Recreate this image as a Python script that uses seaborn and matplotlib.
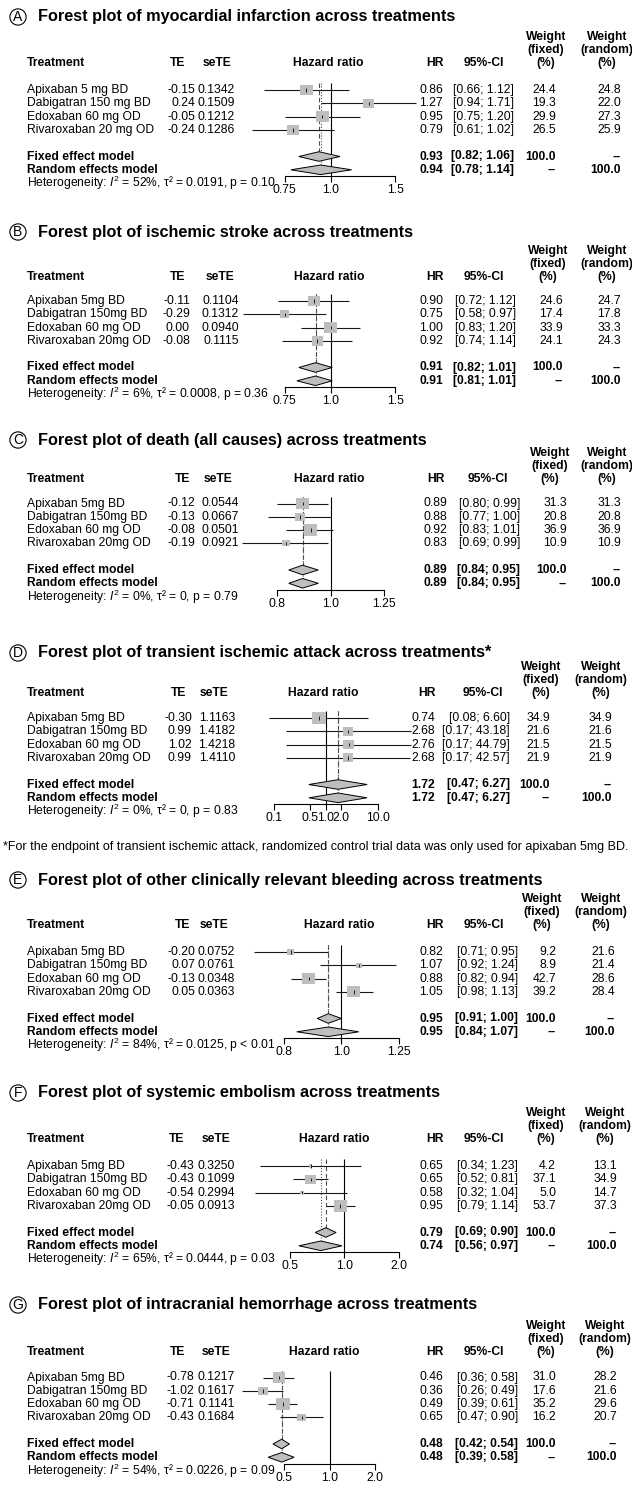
import numpy as np
import pandas as pd
import matplotlib
matplotlib.use("Agg")
import matplotlib.pyplot as plt
from matplotlib.ticker import FixedLocator, FixedFormatter, NullLocator
import seaborn as sns

# ---------------------------------------------------------------- data
drugs_spaced = ["Apixaban 5 mg BD", "Dabigatran 150 mg BD",
                "Edoxaban 60 mg OD", "Rivaroxaban 20 mg OD"]
drugs = ["Apixaban 5mg BD", "Dabigatran 150mg BD",
         "Edoxaban 60 mg OD", "Rivaroxaban 20mg OD"]

# A: myocardial infarction
mi_te = [-0.15, 0.24, -0.05, -0.24]
mi_sete = [0.1342, 0.1509, 0.1212, 0.1286]
mi_hr = [0.86, 1.27, 0.95, 0.79]
mi_lo = [0.66, 0.94, 0.75, 0.61]
mi_hi = [1.12, 1.71, 1.20, 1.02]
mi_wfixed = [24.4, 19.3, 29.9, 26.5]
mi_wrandom = [24.8, 22.0, 27.3, 25.9]
mi_fixed = [0.93, 0.82, 1.06]
mi_random = [0.94, 0.78, 1.14]
mi_het = ["52%", "0.0191", "= 0.10"]
mi_ticks = [0.75, 1.0, 1.5]
mi_ticklabels = ["0.75", "1.0", "1.5"]

# B: ischemic stroke
is_te = [-0.11, -0.29, 0.00, -0.08]
is_sete = [0.1104, 0.1312, 0.0940, 0.1115]
is_hr = [0.90, 0.75, 1.00, 0.92]
is_lo = [0.72, 0.58, 0.83, 0.74]
is_hi = [1.12, 0.97, 1.20, 1.14]
is_wfixed = [24.6, 17.4, 33.9, 24.1]
is_wrandom = [24.7, 17.8, 33.3, 24.3]
is_fixed = [0.91, 0.82, 1.01]
is_random = [0.91, 0.81, 1.01]
is_het = ["6%", "0.0008", "= 0.36"]
is_ticks = [0.75, 1.0, 1.5]
is_ticklabels = ["0.75", "1.0", "1.5"]

# C: death (all causes)
de_te = [-0.12, -0.13, -0.08, -0.19]
de_sete = [0.0544, 0.0667, 0.0501, 0.0921]
de_hr = [0.89, 0.88, 0.92, 0.83]
de_lo = [0.80, 0.77, 0.83, 0.69]
de_hi = [0.99, 1.00, 1.01, 0.99]
de_wfixed = [31.3, 20.8, 36.9, 10.9]
de_wrandom = [31.3, 20.8, 36.9, 10.9]
de_fixed = [0.89, 0.84, 0.95]
de_random = [0.89, 0.84, 0.95]
de_het = ["0%", "0", "= 0.79"]
de_ticks = [0.8, 1.0, 1.25]
de_ticklabels = ["0.8", "1.0", "1.25"]

# D: transient ischemic attack
tia_te = [-0.30, 0.99, 1.02, 0.99]
tia_sete = [1.1163, 1.4182, 1.4218, 1.4110]
tia_hr = [0.74, 2.68, 2.76, 2.68]
tia_lo = [0.08, 0.17, 0.17, 0.17]
tia_hi = [6.60, 43.18, 44.79, 42.57]
tia_wfixed = [34.9, 21.6, 21.5, 21.9]
tia_wrandom = [34.9, 21.6, 21.5, 21.9]
tia_fixed = [1.72, 0.47, 6.27]
tia_random = [1.72, 0.47, 6.27]
tia_het = ["0%", "0", "= 0.83"]
tia_ticks = [0.1, 0.5, 1.0, 2.0, 10.0]
tia_ticklabels = ["0.1", "0.5", "1.0", "2.0", "10.0"]

# E: other clinically relevant bleeding
crb_te = [-0.20, 0.07, -0.13, 0.05]
crb_sete = [0.0752, 0.0761, 0.0348, 0.0363]
crb_hr = [0.82, 1.07, 0.88, 1.05]
crb_lo = [0.71, 0.92, 0.82, 0.98]
crb_hi = [0.95, 1.24, 0.94, 1.13]
crb_wfixed = [9.2, 8.9, 42.7, 39.2]
crb_wrandom = [21.6, 21.4, 28.6, 28.4]
crb_fixed = [0.95, 0.91, 1.00]
crb_random = [0.95, 0.84, 1.07]
crb_het = ["84%", "0.0125", "< 0.01"]
crb_ticks = [0.8, 1.0, 1.25]
crb_ticklabels = ["0.8", "1.0", "1.25"]

# F: systemic embolism
se_te = [-0.43, -0.43, -0.54, -0.05]
se_sete = [0.3250, 0.1099, 0.2994, 0.0913]
se_hr = [0.65, 0.65, 0.58, 0.95]
se_lo = [0.34, 0.52, 0.32, 0.79]
se_hi = [1.23, 0.81, 1.04, 1.14]
se_wfixed = [4.2, 37.1, 5.0, 53.7]
se_wrandom = [13.1, 34.9, 14.7, 37.3]
se_fixed = [0.79, 0.69, 0.90]
se_random = [0.74, 0.56, 0.97]
se_het = ["65%", "0.0444", "= 0.03"]
se_ticks = [0.5, 1.0, 2.0]
se_ticklabels = ["0.5", "1.0", "2.0"]

# G: intracranial hemorrhage
ich_te = [-0.78, -1.02, -0.71, -0.43]
ich_sete = [0.1217, 0.1617, 0.1141, 0.1684]
ich_hr = [0.46, 0.36, 0.49, 0.65]
ich_lo = [0.36, 0.26, 0.39, 0.47]
ich_hi = [0.58, 0.49, 0.61, 0.90]
ich_wfixed = [31.0, 17.6, 35.2, 16.2]
ich_wrandom = [28.2, 21.6, 29.6, 20.7]
ich_fixed = [0.48, 0.42, 0.54]
ich_random = [0.48, 0.39, 0.58]
ich_het = ["54%", "0.0226", "= 0.09"]
ich_ticks = [0.5, 1.0, 2.0]
ich_ticklabels = ["0.5", "1.0", "2.0"]

titles = [
    "Forest plot of myocardial infarction across treatments",
    "Forest plot of ischemic stroke across treatments",
    "Forest plot of death (all causes) across treatments",
    "Forest plot of transient ischemic attack across treatments*",
    "Forest plot of other clinically relevant bleeding across treatments",
    "Forest plot of systemic embolism across treatments",
    "Forest plot of intracranial hemorrhage across treatments",
]
letters = ["A", "B", "C", "D", "E", "F", "G"]
footnote = ("*For the endpoint of transient ischemic attack, randomized control "
            "trial data was only used for apixaban 5mg BD.")

panels = []
for names, te, sete, hr, lo, hi, wf, wr, fx_, rd_, het, tk, tl in [
    (drugs_spaced, mi_te, mi_sete, mi_hr, mi_lo, mi_hi, mi_wfixed, mi_wrandom,
     mi_fixed, mi_random, mi_het, mi_ticks, mi_ticklabels),
    (drugs, is_te, is_sete, is_hr, is_lo, is_hi, is_wfixed, is_wrandom,
     is_fixed, is_random, is_het, is_ticks, is_ticklabels),
    (drugs, de_te, de_sete, de_hr, de_lo, de_hi, de_wfixed, de_wrandom,
     de_fixed, de_random, de_het, de_ticks, de_ticklabels),
    (drugs, tia_te, tia_sete, tia_hr, tia_lo, tia_hi, tia_wfixed, tia_wrandom,
     tia_fixed, tia_random, tia_het, tia_ticks, tia_ticklabels),
    (drugs, crb_te, crb_sete, crb_hr, crb_lo, crb_hi, crb_wfixed, crb_wrandom,
     crb_fixed, crb_random, crb_het, crb_ticks, crb_ticklabels),
    (drugs, se_te, se_sete, se_hr, se_lo, se_hi, se_wfixed, se_wrandom,
     se_fixed, se_random, se_het, se_ticks, se_ticklabels),
    (drugs, ich_te, ich_sete, ich_hr, ich_lo, ich_hi, ich_wfixed, ich_wrandom,
     ich_fixed, ich_random, ich_het, ich_ticks, ich_ticklabels),
]:
    panels.append(dict(names=names, te=te, sete=sete, hr=hr, lo=lo, hi=hi,
                       wf=wf, wr=wr, fixed=fx_, random=rd_, het=het,
                       ticks=tk, ticklabels=tl))

# ---------------------------------------------------------------- layout (pixels)
W, H = 632, 1488
DY = 13.3
BODY = 8.7
TITLE = 11.7
GRAY = "#BEBEBE"

# per panel: title row, header row, first study row, log-axis origin/scale, column anchors
layout = [
    dict(title_y=17, head_y=63, y0=90, x1=330.6, k=160,
         te_h=178, te_r=195, se_h=217, se_r=235, hz_h=328.5, hr_l=419, hr_h=435,
         ci_r=514, ci_h=484, wf_h=546, wf_r=556, wr_h=607, wr_r=621),
    dict(title_y=232, head_y=277, y0=301, x1=330.6, k=160,
         te_h=178, te_r=190, se_h=220, se_r=239, hz_h=329.5, hr_l=419, hr_h=435,
         ci_r=516, ci_h=484, wf_h=548, wf_r=563, wr_h=607, wr_r=621),
    dict(title_y=440, head_y=479, y0=503.5, x1=330.6, k=240,
         te_h=183, te_r=195, se_h=218, se_r=239, hz_h=329.5, hr_l=424, hr_h=436,
         ci_r=520, ci_h=488, wf_h=550, wf_r=567, wr_h=607, wr_r=621),
    dict(title_y=653, head_y=693, y0=718, x1=325.8, k=22.5,
         te_h=179, te_r=192, se_h=214, se_r=235, hz_h=323.5, hr_l=411, hr_h=427,
         ci_r=510, ci_h=483, wf_h=541, wf_r=550, wr_h=601, wr_r=612),
    dict(title_y=880, head_y=925, y0=952, x1=341.4, k=256,
         te_h=183, te_r=195, se_h=214, se_r=235, hz_h=339.5, hr_l=419, hr_h=435,
         ci_r=518, ci_h=484, wf_h=542, wf_r=556, wr_h=601, wr_r=615),
    dict(title_y=1093, head_y=1139, y0=1166, x1=344.3, k=78.3,
         te_h=177, te_r=194, se_h=216.5, se_r=235, hz_h=334.6, hr_l=419, hr_h=435,
         ci_r=518, ci_h=484, wf_h=546, wf_r=556, wr_h=605, wr_r=617),
    dict(title_y=1305, head_y=1352, y0=1377.5, x1=329.8, k=65.5,
         te_h=178, te_r=194, se_h=216.5, se_r=235, hz_h=324.5, hr_l=419, hr_h=435,
         ci_r=518, ci_h=484, wf_h=546, wf_r=556, wr_h=605, wr_r=617),
]
FOOT_Y = 847
LABEL_X = 27
FOREST_L, FOREST_R = 228, 428
ROW_TOP, ROW_BOT = -1.5, 8.5
SQ_MAX = 95  # marker area (pt^2) of the heaviest study in a panel
BOX = [(-0.6, -0.5), (0.6, -0.5), (0.6, 0.5), (-0.6, 0.5)]

# ---------------------------------------------------------------- style
sns.set_theme(style="white")
plt.rcParams["font.family"] = ["Liberation Sans", "DejaVu Sans"]
plt.rcParams["mathtext.fontset"] = "custom"
plt.rcParams["mathtext.rm"] = "Liberation Sans"
plt.rcParams["mathtext.it"] = "Liberation Sans:italic"
plt.rcParams["mathtext.bf"] = "Liberation Sans:bold"

fig = plt.figure(figsize=(W / 100, H / 100), dpi=100)
fig.patch.set_facecolor("white")


def put(x, y, s, ha="left", bold=False, size=BODY, **kw):
    fig.text(x / W, 1 - y / H, s, ha=ha, va="center", fontsize=size,
             fontweight="bold" if bold else "normal", color="black", **kw)


def draw_panel(p, lay, letter, title):
    y0 = lay["y0"]

    def row_y(r):
        return y0 + r * DY

    # title with circled panel letter
    put(18, lay["title_y"], letter, ha="center", size=10,
        bbox=dict(boxstyle="circle,pad=0.08", fc="white", ec="black", lw=0.8))
    put(38, lay["title_y"], title, bold=True, size=TITLE)

    # column headers
    hy = lay["head_y"]
    put(LABEL_X, hy, "Treatment", bold=True)
    put(lay["te_h"], hy, "TE", ha="center", bold=True)
    put(lay["se_h"], hy, "seTE", ha="center", bold=True)
    put(lay["hz_h"], hy, "Hazard ratio", ha="center", bold=True)
    put(lay["hr_h"], hy, "HR", ha="center", bold=True)
    put(lay["ci_h"], hy, "95%-CI", ha="center", bold=True)
    for key, word in (("wf_h", "(fixed)"), ("wr_h", "(random)")):
        put(lay[key], hy - 26, "Weight", ha="center", bold=True)
        put(lay[key], hy - 13, word, ha="center", bold=True)
        put(lay[key], hy, "(%)", ha="center", bold=True)

    # study rows
    for i, name in enumerate(p["names"]):
        y = row_y(i)
        put(LABEL_X, y, name)
        put(lay["te_r"], y, f"{p['te'][i]:.2f}", ha="right")
        put(lay["se_r"], y, f"{p['sete'][i]:.4f}", ha="right")
        put(lay["hr_l"], y, f"{p['hr'][i]:.2f}")
        put(lay["ci_r"], y, f"[{p['lo'][i]:.2f}; {p['hi'][i]:.2f}]", ha="right")
        put(lay["wf_r"], y, f"{p['wf'][i]:.1f}", ha="right")
        put(lay["wr_r"], y, f"{p['wr'][i]:.1f}", ha="right")

    # pooled rows
    for r, label, est, wf_txt, wr_txt in (
            (5, "Fixed effect model", p["fixed"], "100.0", "--"),
            (6, "Random effects model", p["random"], "--", "100.0")):
        y = row_y(r)
        put(LABEL_X, y, label, bold=True)
        put(lay["hr_l"], y, f"{est[0]:.2f}", bold=True)
        put(lay["ci_r"], y, f"[{est[1]:.2f}; {est[2]:.2f}]", ha="right", bold=True)
        put(lay["wf_r"], y, wf_txt, ha="right", bold=True)
        put(lay["wr_r"], y, wr_txt, ha="right", bold=True)

    i2, tau2, pval = p["het"]
    put(LABEL_X, row_y(7),
        f"Heterogeneity: $I^2$ = {i2}, \u03c4\u00b2 = {tau2}, p {pval}")

    # forest area on a log hazard-ratio axis
    left, right = FOREST_L, FOREST_R
    ax = fig.add_axes([left / W, 1 - row_y(ROW_BOT) / H,
                       (right - left) / W, (ROW_BOT - ROW_TOP) * DY / H])
    ax.set_xscale("log")
    ax.patch.set_alpha(0)

    rows = np.arange(len(p["hr"]))
    ax.hlines(rows, p["lo"], p["hi"], color="#1a1a1a", lw=0.8, zorder=2)

    df = pd.DataFrame({"hr": p["hr"], "row": rows, "w": p["wf"]})
    sns.scatterplot(data=df, x="hr", y="row", size="w", sizes=(0, SQ_MAX),
                    size_norm=(0, max(p["wf"])), marker=BOX, color=GRAY,
                    edgecolor="none", linewidth=0, legend=False, ax=ax, zorder=3)
    ax.vlines(p["hr"], rows - 0.13, rows + 0.13, color="black", lw=0.6, zorder=4)

    # reference line and pooled-estimate lines
    ax.vlines(1.0, -0.5, 6.5, color="black", lw=0.8, zorder=1)
    ax.vlines(p["fixed"][0], -0.5, 5, color="#4d4d4d", lw=0.8,
              linestyles=(0, (4, 2.5)), zorder=1)
    ax.vlines(p["random"][0], -0.5, 6, color="#4d4d4d", lw=0.8,
              linestyles=(0, (1, 1.6)), zorder=1)

    # pooled diamonds
    h = 0.36
    for r, (est, lo, hi) in ((5, p["fixed"]), (6, p["random"])):
        ax.fill([lo, est, hi, est], [r, r - h, r, r + h], facecolor=GRAY,
                edgecolor="black", lw=0.7, zorder=3)

    x1, k = lay["x1"], lay["k"]
    ax.set_xlim(np.exp((left - x1) / k), np.exp((right - x1) / k))
    ax.set_ylim(ROW_BOT, ROW_TOP)
    ax.set_xlabel("")
    ax.set_ylabel("")
    ax.set_yticks([])
    for side in ("top", "right", "left"):
        ax.spines[side].set_visible(False)
    sp = ax.spines["bottom"]
    sp.set_position(("data", 6.5))
    sp.set_bounds(p["ticks"][0], p["ticks"][-1])
    sp.set_color("black")
    sp.set_linewidth(0.8)
    ax.xaxis.set_major_locator(FixedLocator(p["ticks"]))
    ax.xaxis.set_major_formatter(FixedFormatter(p["ticklabels"]))
    ax.xaxis.set_minor_locator(NullLocator())
    ax.tick_params(axis="x", which="major", bottom=True, direction="out",
                   length=4, width=0.8, pad=1.5, labelsize=BODY,
                   colors="black")
    ax.grid(False)


for p, lay, letter, title in zip(panels, layout, letters, titles):
    draw_panel(p, lay, letter, title)

put(3, FOOT_Y, footnote, size=9.0)

fig.savefig("out.png", dpi=100, facecolor="white")
